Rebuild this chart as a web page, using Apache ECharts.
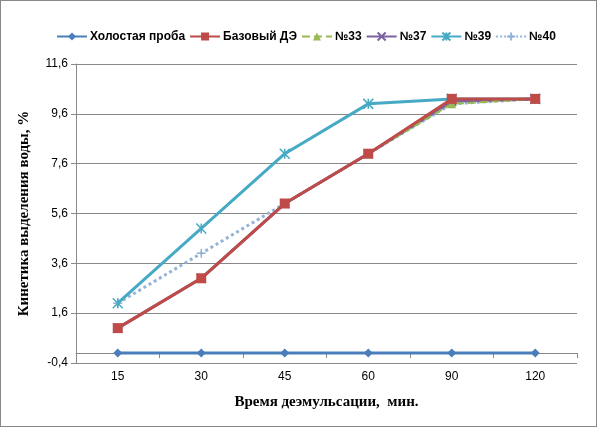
<!DOCTYPE html><html><head><meta charset="utf-8">
<script src="https://cdn.jsdelivr.net/npm/echarts@6/dist/echarts.min.js"></script>
<style>html,body{margin:0;padding:0;background:#fff}#c{width:597px;height:427px;box-sizing:border-box;border:1px solid #888}</style></head><body><div id="c"></div>
<script>
const categories=['15','30','45','60','90','120'];
const names=['Холостая проба','Базовый ДЭ','№33','№37','№39','№40'];
const v0=[0,0,0,0,0,0];
const v1=[1,3,6,8,10.2,10.2];
const v2=[1,3,6,8,10,10.2];
const v3=[1,3,6,8,10.1,10.2];
const v4=[2,5,8,10,10.2,10.2];
const v5=[2,4,6,8,10,10.2];
const X='path://M0,0L10,10M10,0L0,10';
const AST='path://M0,0L10,10M10,0L0,10M5,0L5,10';
const PLUS='path://M5,0L5,10M0,5L10,5';
const cfg=[
 {d:v0,c:'#4a7ebb',s:'diamond',ss:9,t:'solid',w:3},
 {d:v1,c:'#be4b48',s:'rect',ss:10,t:'solid',w:3},
 {d:v2,c:'#98b954',s:'triangle',ss:9,t:'dashed',w:2},
 {d:v3,c:'#7d60a0',s:X,ss:9,t:'solid',w:3},
 {d:v4,c:'#46aac5',s:AST,ss:10,t:'solid',w:3},
 {d:v5,c:'#95b3d7',s:PLUS,ss:9,t:'dotted',w:3}
];
const series=cfg.map((o,i)=>({name:names[i],type:'line',data:o.d,symbol:o.s,symbolSize:o.ss,
 lineStyle:{color:o.c,width:o.w,type:o.t},
 itemStyle:{color:(o.s.startsWith('path')?'none':o.c),borderColor:o.c,borderWidth:o.s.startsWith('path')?1.5:0},z:10-i}));
const ch=echarts.init(document.getElementById('c'));
ch.setOption({animation:false,
 legend:{top:24,left:50,itemWidth:30,itemHeight:10,itemGap:4,textStyle:{fontFamily:'Liberation Sans',fontWeight:'bold',fontSize:12,color:'#000',padding:[0,0,0,-2]},data:names},
 grid:{left:75,right:19,top:63,bottom:63},
 xAxis:{type:'category',data:categories,boundaryGap:true,
  name:'Время деэмульсации,  мин.',nameLocation:'middle',nameGap:32,
  nameTextStyle:{fontFamily:'Liberation Serif',fontWeight:'bold',fontSize:15,color:'#000'},
  axisLine:{lineStyle:{color:'#888'}},axisTick:{show:true,alignWithLabel:false,lineStyle:{color:'#888'}},
  axisLabel:{color:'#000',fontSize:12,fontFamily:'Liberation Sans'}},
 yAxis:{type:'value',min:-0.4,max:11.6,interval:2,
  name:'Кинетика выделения воды, %',nameLocation:'middle',nameGap:44,
  nameTextStyle:{fontFamily:'Liberation Serif',fontWeight:'bold',fontSize:15,color:'#000'},
  axisLine:{show:true,lineStyle:{color:'#888'}},axisTick:{show:true,lineStyle:{color:'#888'}},
  splitLine:{lineStyle:{color:'#888'}},
  axisLabel:{color:'#000',fontSize:12,fontFamily:'Liberation Sans',formatter:v=>v.toFixed(1).replace('.',',')}},
 series});
</script></body></html>
